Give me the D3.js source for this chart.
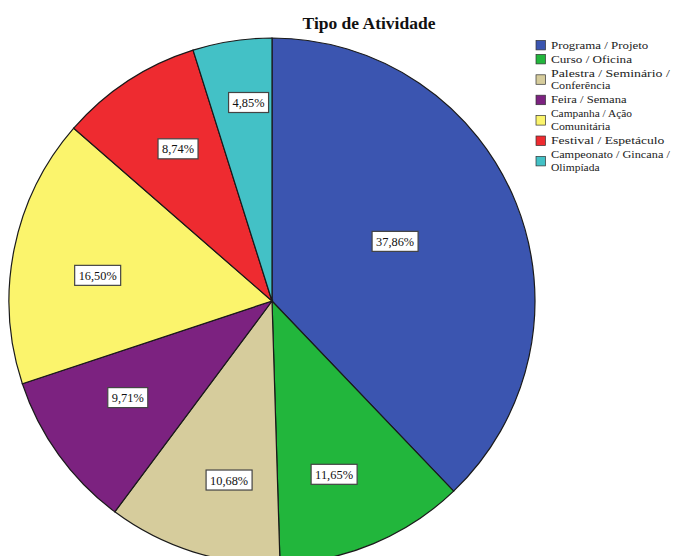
<!DOCTYPE html>
<html><head><meta charset="utf-8">
<script src="https://cdn.jsdelivr.net/npm/d3@7"></script>
<style>html,body{margin:0;padding:0;background:#fff;overflow:hidden}</style>
</head><body>
<svg id="c" width="677" height="556"></svg>
<script>
const categories = ["Programa / Projeto","Curso / Oficina","Palestra / Seminário / Conferência","Feira / Semana","Campanha / Ação Comunitária","Festival / Espetáculo","Campeonato / Gincana / Olimpíada"];
const legendLines = [["Programa / Projeto"],["Curso / Oficina"],["Palestra / Seminário /","Conferência"],["Feira / Semana"],["Campanha / Ação","Comunitária"],["Festival / Espetáculo"],["Campeonato / Gincana /","Olimpíada"]];
const values = [37.86, 11.65, 10.68, 9.71, 16.50, 8.74, 4.85];
const colors = ["#3b55b0","#22b63c","#d6cc9c","#7c2280","#fbf46c","#ee2b30","#43c1c6"];
const title = "Tipo de Atividade";

const svg = d3.select("#c");
const cx = 272, cy = 301, r = 263;
const fmt = v => d3.format(".2f")(v).replace(".", ",") + "%";

svg.append("text").attr("x", 369).attr("y", 29).attr("text-anchor","middle")
  .attr("font-family","Liberation Serif, serif").attr("font-weight","bold").attr("font-size",17.5)
  .attr("fill","#111").text(title);

const pie = d3.pie().sort(null).value(d => d);
const arcs = pie(values);
const arc = d3.arc().innerRadius(0).outerRadius(r);
const g = svg.append("g").attr("transform",`translate(${cx},${cy})`);
g.selectAll("path").data(arcs).join("path")
  .attr("d", arc).attr("fill",(d,i)=>colors[i])
  .attr("stroke","#1a1a1a").attr("stroke-width",1.2);

// label placement (radius fraction / angle shift in degrees) per slice
const kR = [0.52, 0.70, 0.70, 0.66, 0.67, 0.68, 0.76];
const dA = [-4, 3, -4, 2, -3, 1.5, 2];
const lab = g.selectAll("g.lab").data(arcs).join("g").attr("class","lab")
  .attr("transform", (d,i) => {
    const a = (d.startAngle + d.endAngle)/2 + dA[i]*Math.PI/180;
    const k = kR[i];
    return `translate(${Math.sin(a)*r*k},${-Math.cos(a)*r*k})`;
  });
lab.append("text").attr("text-anchor","middle").attr("y",4.5)
  .attr("font-family","Liberation Serif, serif").attr("font-size",12).attr("fill","#111")
  .attr("textLength", d => d.data >= 10 ? 38 : 32).attr("lengthAdjust","spacingAndGlyphs")
  .text(d => fmt(d.data));
lab.insert("rect","text").each(function(d){
  const w = (d.data >= 10 ? 38 : 32) + 8;
  d3.select(this).attr("x",-w/2).attr("y",-10).attr("width",w).attr("height",20);
}).attr("fill","#fff").attr("stroke","#444").attr("stroke-width",1.2);

const lg = svg.append("g").attr("transform","translate(536,39)");
const lineH = 12.8, gap = 1.2;
let yy = 0;
legendLines.forEach((lines,i) => {
  const h = lines.length * lineH;
  const sy = yy + (h - 10)/2;
  lg.append("rect").attr("x",0).attr("y",sy).attr("width",9.5).attr("height",9.5)
    .attr("fill",colors[i]).attr("stroke","#333").attr("stroke-width",0.7);
  lines.forEach((t,j) => {
    lg.append("text").attr("x",15).attr("y",yy + 9.5 + j*lineH)
      .attr("font-family","Liberation Serif, serif").attr("font-size",11).attr("fill","#222")
      .attr("textLength", t.length * 5.4).attr("lengthAdjust","spacingAndGlyphs")
      .text(t);
  });
  yy += h + gap;
});
</script>
</body></html>
